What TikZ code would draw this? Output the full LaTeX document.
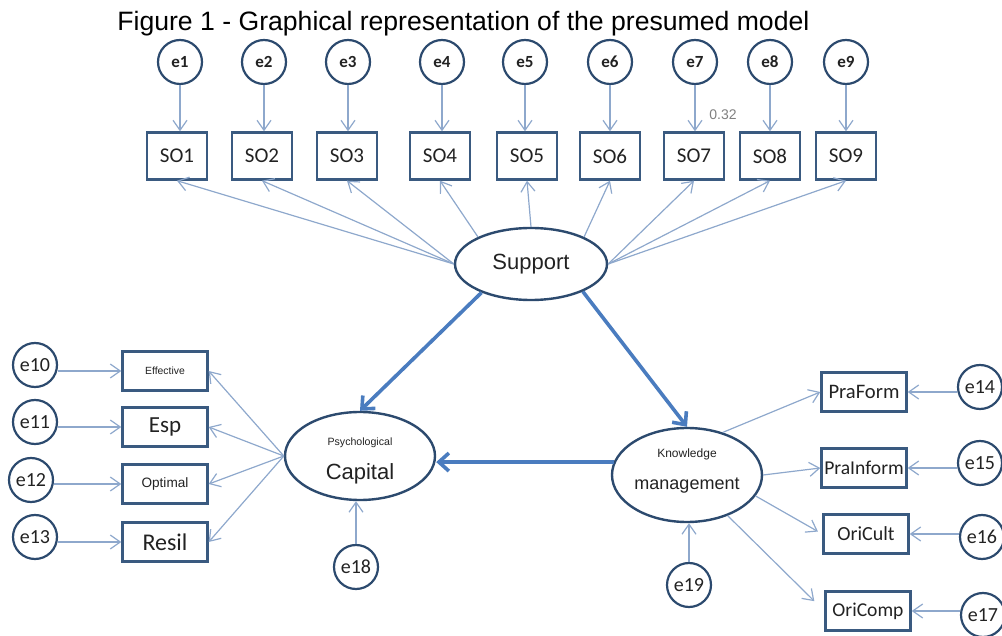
\documentclass[tikz,border=0pt]{standalone}
\usepackage{fontspec}
\setmainfont{Liberation Sans}
\newfontfamily\calib{Carlito}
\usetikzlibrary{arrows.meta,positioning,calc,shapes.geometric}

\definecolor{boxline}{HTML}{3A5A80}
\definecolor{ovalline}{HTML}{2C4A6E}
\definecolor{loadblue}{HTML}{8EA8CC}
\definecolor{pathblue}{HTML}{4A7CBF}
\definecolor{ink}{HTML}{222222}

\begin{document}
\begin{tikzpicture}[x=0.5pt,y=-0.5pt,text=ink,
  err/.style={circle,draw=ovalline,line width=1.1pt,minimum size=22pt,inner sep=0pt,font=\calib\fontsize{10}{12}\selectfont},
  item/.style={rectangle,draw=boxline,line width=1.2pt,minimum width=42.5pt,minimum height=19.5pt,inner sep=0pt,font=\calib\fontsize{10}{12}\selectfont},
  latent/.style={ellipse,draw=ovalline,line width=1.2pt,inner sep=0pt,align=center},
  load/.style={draw=loadblue,line width=0.6pt,-{Straight Barb[length=5pt,width=7pt]}},
  reg/.style={draw=pathblue,line width=1.8pt,-{Straight Barb[length=5pt,width=9pt]}}]

\useasboundingbox (0,0) rectangle (1002,636);

\node[anchor=base west,inner sep=0pt,text=black,font=\fontsize{13.3}{16}\selectfont] (title) at (117,31) {Figure 1 - Graphical representation of the presumed model};

% Support items with their errors
\foreach \i/\x/\ex in {1/177/180,2/262/264,3/347/348,4/440/442,5/527/525,6/610/610,7/694/695,8/770/770,9/846/846} {
  \node[err,font=\calib\bfseries\fontsize{8.5}{10}\selectfont] (e\i) at (\ex,62) {e\i};
  \node[item,minimum width=30pt,minimum height=23.5pt,font=\calib\fontsize{10.5}{12}\selectfont] (so\i) at (\x,156) {SO\i};
  \draw[load] (e\i.south) -- (e\i.south |- so\i.north);
}
\node[font=\fontsize{7}{8}\selectfont,text=gray] (w7) at (723,115) {0.32};

% Latent variables
\node[latent,minimum width=76pt,minimum height=36pt,font=\fontsize{11}{13}\selectfont] (sup) at (531,264) {Support};
\node[latent,minimum width=75pt,minimum height=44pt] (cap) at (360,456)
  {\rule{0pt}{9pt}\fontsize{5.3}{6}\selectfont Psychological\\[5pt]\fontsize{11}{11}\selectfont Capital};
\node[latent,minimum width=75pt,minimum height=47pt] (km) at (687,475)
  {\fontsize{6}{7}\selectfont Knowledge\\[4pt]\fontsize{9}{9}\selectfont management\rule[-6pt]{0pt}{6pt}};

% Loadings of Support
\foreach \i in {1,2,3} \draw[load] (sup.west) -- (so\i.south);
\draw[load] (sup.153) -- (so4.south);
\draw[load] (sup.north) -- (so5.south);
\draw[load] (sup.27) -- (so6.south);
\foreach \i in {7,8,9} \draw[load] (sup.east) -- (so\i.south);

% Structural paths
\draw[reg] (sup.-150) -- (cap.north);
\draw[reg] (sup.-28) -- (km.north);
\draw[reg] (km.170) -- (km.170 -| cap.east);

% Psychological capital block
\node[item,font=\fontsize{5.2}{6}\selectfont] (eff) at (165,371) {Effective};
\node[item,font=\calib\fontsize{11.5}{13}\selectfont] (esp) at (165,427) {Esp};
\node[item,font=\fontsize{6.8}{8}\selectfont] (opt) at (165,484) {Optimal};
\node[item,font=\calib\fontsize{12}{14}\selectfont] (res) at (165,542) {Resil};

\node[err] (e10) at (35,365) {e10};
\node[err] (e11) at (35,422) {e11};
\node[err] (e12) at (31,480) {e12};
\node[err] (e13) at (35,537) {e13};
\node[err] (e18) at (356,567) {e18};

\foreach \e/\t in {e10/eff,e11/esp,e12/opt,e13/res} {
  \draw[load] (\e.east |- \t.west) -- (\t.west);
  \draw[load] (cap.west) -- (\t.east);
}
\draw[load] (e18.north) -- (e18.north |- cap.south);

% Knowledge management block
\node[item,font=\calib\fontsize{10.3}{12}\selectfont] (pf) at (864,392) {PraForm};
\node[item,font=\calib\fontsize{9.8}{12}\selectfont] (pi) at (864,468) {PraInform};
\node[item,font=\calib\fontsize{10}{12}\selectfont] (ocu) at (866,534) {OriCult};
\node[item,font=\calib\fontsize{9.8}{12}\selectfont] (oco) at (868,611) {OriComp};

\node[err] (e14) at (980,387) {e14};
\node[err] (e15) at (980,463) {e15};
\node[err] (e16) at (982,537) {e16};
\node[err] (e17) at (983,615) {e17};
\node[err] (e19) at (689,585) {e19};

\foreach \e/\t in {e14/pf,e15/pi,e16/ocu,e17/oco}
  \draw[load] (\e.west |- \t.east) -- (\t.east);

\draw[load] (km.50) -- (pf.west);
\draw[load] (km.east) -- (pi.west);
\draw[load,shorten >=2.5pt] (km.-17) -- (ocu.west);
\draw[load,shorten >=7pt] (km.-45) -- (oco.west);
\draw[load] (e19.north) -- (e19.north |- km.south);

\end{tikzpicture}
\end{document}
